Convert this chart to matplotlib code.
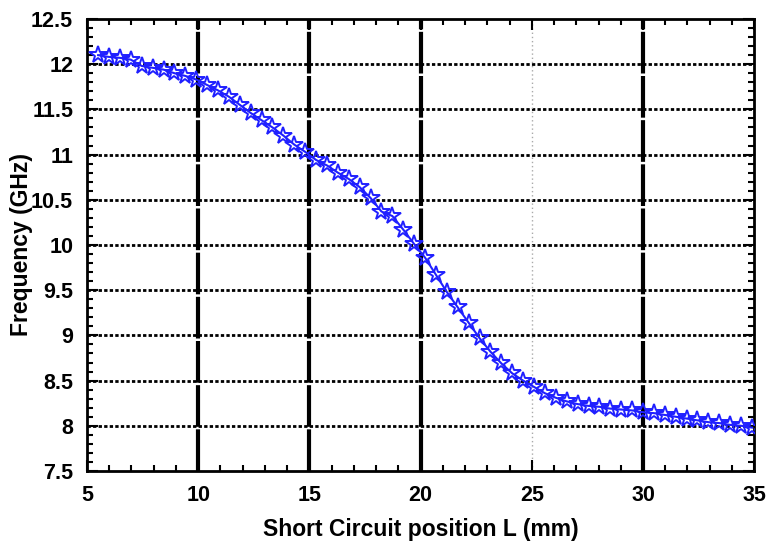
import numpy as np
import matplotlib.pyplot as plt
from matplotlib.ticker import MultipleLocator

plt.rcParams['font.family'] = ['Liberation Sans', 'DejaVu Sans']
plt.rcParams['font.weight'] = 'bold'

# short circuit position (mm) and resonant frequency (GHz)
pos = [5.50, 5.99, 6.48, 6.97, 7.46, 7.95, 8.44, 8.93, 9.42, 9.91,
       10.40, 10.89, 11.38, 11.87, 12.36, 12.85, 13.34, 13.83, 14.32, 14.81,
       15.30, 15.79, 16.28, 16.77, 17.26, 17.75, 18.24, 18.73, 19.22, 19.71,
       20.20, 20.69, 21.18, 21.67, 22.16, 22.65, 23.14, 23.63, 24.12, 24.61,
       25.10, 25.59, 26.08, 26.57, 27.06, 27.55, 28.04, 28.53, 29.02, 29.51,
       30.00, 30.49, 30.98, 31.47, 31.96, 32.45, 32.94, 33.43, 33.92, 34.41,
       34.90]
freq = [12.10, 12.08, 12.07, 12.05, 11.98, 11.96, 11.94, 11.90, 11.87, 11.83,
        11.77, 11.71, 11.64, 11.55, 11.46, 11.38, 11.30, 11.21, 11.11, 11.03,
        10.94, 10.88, 10.80, 10.73, 10.64, 10.52, 10.37, 10.32, 10.17, 10.01,
        9.86, 9.67, 9.48, 9.31, 9.14, 8.97, 8.82, 8.69, 8.58, 8.50,
        8.43, 8.36, 8.31, 8.27, 8.24, 8.22, 8.21, 8.19, 8.18, 8.17,
        8.15, 8.14, 8.12, 8.10, 8.08, 8.06, 8.04, 8.03, 8.01, 8.00,
        7.98]

xticks = [5, 10, 15, 20, 25, 30, 35]
yticks = [7.5, 8, 8.5, 9, 9.5, 10, 10.5, 11, 11.5, 12, 12.5]

fig = plt.figure(figsize=(7.66, 5.42), dpi=100)
ax = fig.add_axes([0.1136, 0.131, 0.871, 0.834])

# grid
for v in yticks[1:-1]:
    ax.axhline(v, color='black', lw=2, ls=(0, (1.2, 0.8)), zorder=1)
for v in xticks[1:-1]:
    if v == 25:
        ax.axvline(v, color='#aaaaaa', lw=1, ls=(0, (1, 2)), zorder=1)
    else:
        ax.axvline(v, color='black', lw=3, ls=(0, (10, 0.6)), zorder=1)

ax.plot(pos, freq, color='#2020ff', lw=1.5, marker='*', ms=13,
        mfc='none', mec='#2020ff', mew=1.4, zorder=3)

ax.set_xlim(5, 35)
ax.set_ylim(7.5, 12.5)
ax.set_xticks(xticks)
ax.set_xticklabels([str(t) for t in xticks])
ax.set_yticks(yticks)
ax.set_yticklabels(['%g' % t for t in yticks])
ax.xaxis.set_minor_locator(MultipleLocator(1))
ax.yaxis.set_minor_locator(MultipleLocator(0.1))
ax.tick_params(which='both', direction='in', top=True, right=True,
               labelsize=15.5, width=1.5, colors='black')
ax.tick_params(which='major', length=8)
ax.tick_params(which='minor', length=4)
ax.tick_params(axis='x', pad=10)
ax.tick_params(axis='y', pad=10)
for s in ax.spines.values():
    s.set_linewidth(2)

ax.set_xlabel('Short Circuit position L (mm)', fontsize=16.5, fontweight='bold')
ax.set_ylabel('Frequency (GHz)', fontsize=16.5, fontweight='bold')
ax.xaxis.set_label_coords(0.5, -0.105)
ax.yaxis.set_label_coords(-0.081, 0.5)

fig.savefig('out.png', dpi=100)
